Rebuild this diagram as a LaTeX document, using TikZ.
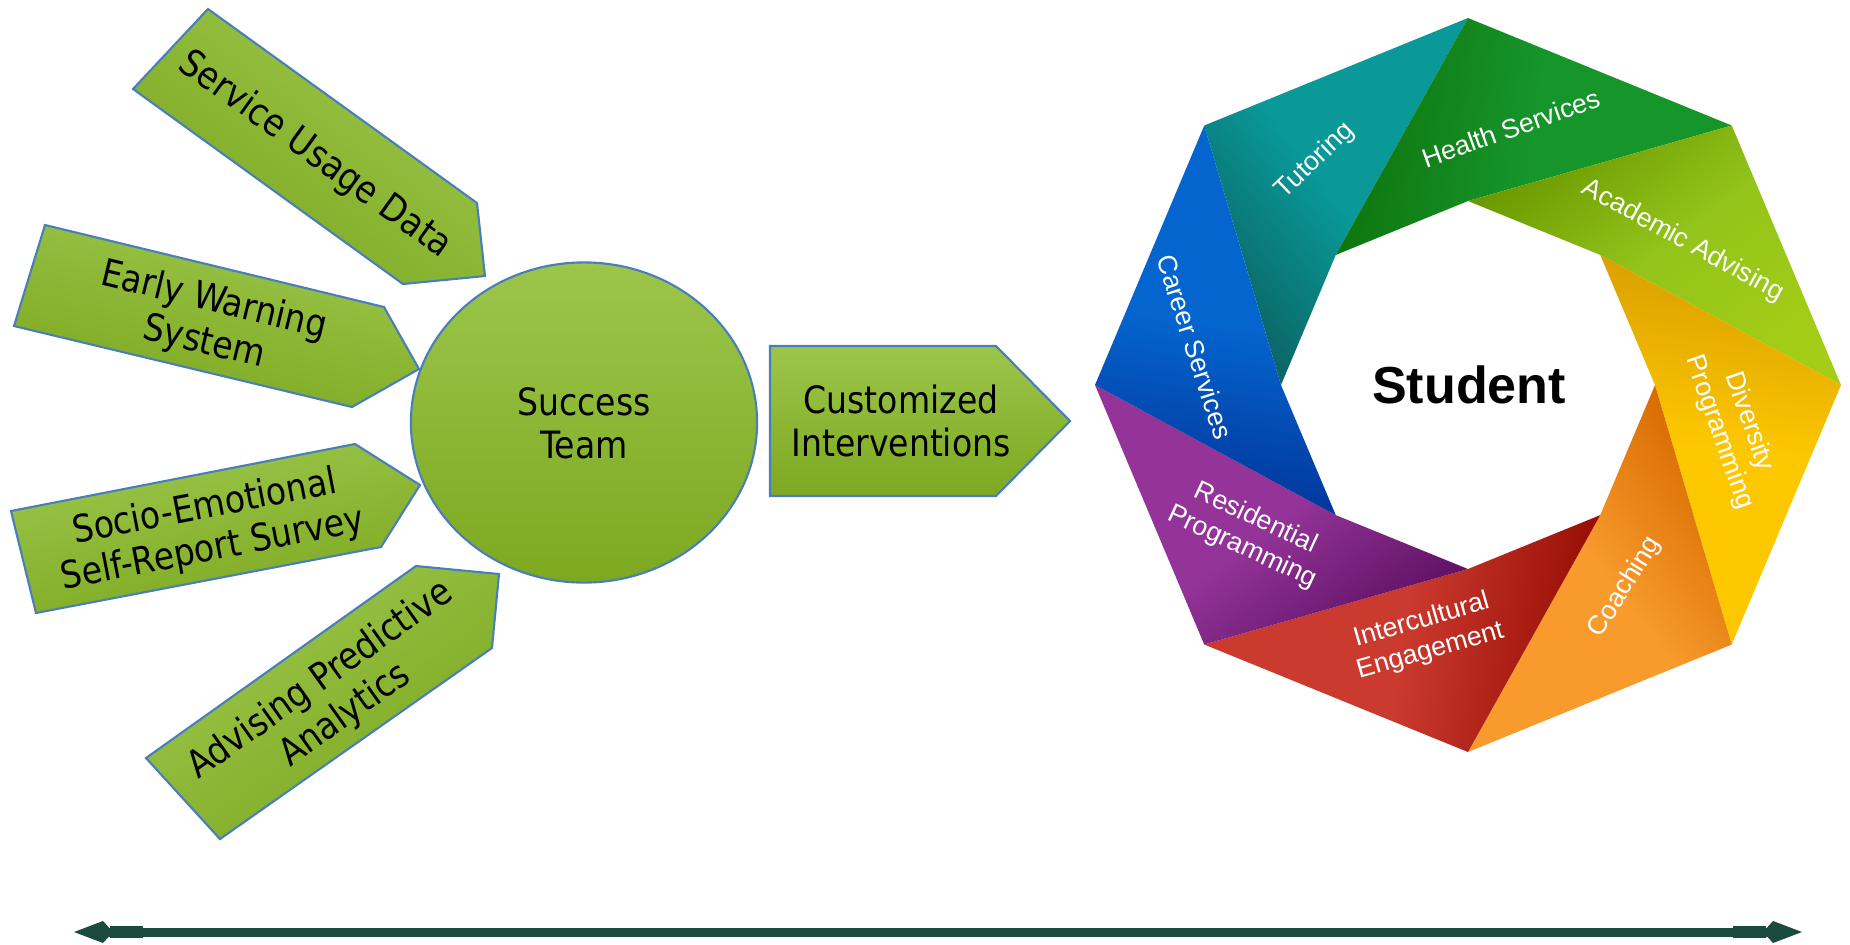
\documentclass[tikz,border=0pt]{standalone}
\usepackage{fontspec}
\usetikzlibrary{shapes.geometric,arrows.meta}
\newfontfamily\tah{DejaVu Sans}[FakeStretch=0.88]
\newfontfamily\ari{Liberation Sans}
\definecolor{glight}{HTML}{9BC64B}
\definecolor{gdark}{HTML}{7DA820}
\definecolor{gline}{HTML}{4A7EBB}
\definecolor{arrowgreen}{HTML}{1B4B3D}
\definecolor{tealmain}{HTML}{0A9898}\definecolor{tealdark}{HTML}{0B6464}
\definecolor{grnmain}{HTML}{16952B}\definecolor{grndark}{HTML}{0E740C}
\definecolor{limemain}{HTML}{93C41A}\definecolor{limedark}{HTML}{6A9800}
\definecolor{yelmain}{HTML}{FDC800}\definecolor{yeldark}{HTML}{D99E00}
\definecolor{orgmain}{HTML}{F89A2C}\definecolor{orgdark}{HTML}{D86C00}
\definecolor{redmain}{HTML}{CB3A2E}\definecolor{reddark}{HTML}{950C04}
\definecolor{purmain}{HTML}{943499}\definecolor{purdark}{HTML}{5F1264}
\definecolor{blumain}{HTML}{0565CF}\definecolor{bludark}{HTML}{00359A}
\tikzset{
  feed/.style={draw=gline, line width=0.6pt, top color=glight, bottom color=gdark},
  feedtext/.style={font=\tah\fontsize{10.7}{12.2}\selectfont, align=center, text=black, inner sep=0pt},
  paneltext/.style={font=\ari\fontsize{7.6}{9}\selectfont, align=center, text=white, inner sep=0pt},
  neck/.style={draw=arrowgreen, line width=0.12cm},
  kitetip/.tip={Kite[length=0.39cm,width=0.22cm,inset=0.1cm]}
}
\begin{document}
\begin{tikzpicture}[x=0.01cm,y=-0.01cm]
\useasboundingbox (0,0) rectangle (1850,944);

% ---- input arrows ----
\shade[feed, shading angle=-35.8] (208,9) -- (477,203) -- (485,276) -- (403,284) -- (133,89) -- cycle;
\node[feedtext, rotate=-35.8] (sud) at (315,155) {Service Usage Data};

\shade[feed, shading angle=-13.5] (45,225) -- (384,307) -- (419,369) -- (352,407) -- (14,326) -- cycle;
\node[feedtext, rotate=-13.5] (ews) at (209,322) {Early Warning\\System};

\shade[feed, shading angle=10.9] (11,511) -- (355,444) -- (420,485) -- (381,547) -- (36,613) -- cycle;
\node[feedtext, rotate=10.9] (ses) at (209,529) {Socio-Emotional\\Self-Report Survey};

\shade[feed, shading angle=35.4] (146,758) -- (416,566) -- (499,574) -- (492,648) -- (220,839) -- cycle;
\node[feedtext, rotate=35.4] (apa) at (333,698) {Advising Predictive\\Analytics};

% ---- success team ----
\node[ellipse, feed, minimum width=3.46cm, minimum height=3.2cm, inner sep=0pt] (st) at (584,422.5) {};
\node[feedtext] (stt) at (584,423) {Success\\Team};

% ---- customized interventions ----
\shade[feed] (770,346) -- (996,346) -- (1070,421) -- (996,496) -- (770,496) -- cycle;
\node[feedtext] (ci) at (901,421) {Customized\\Interventions};

% ---- octagon ring ----
\foreach \k in {0,...,7}{
  \coordinate (o\k) at ({1468+373*cos(45*\k)},{385+367*sin(45*\k)});
  \coordinate (i\k) at ({1468+187*cos(45*\k)},{385+184*sin(45*\k)});
}
\shade[bottom color=tealdark, top color=tealmain, middle color=tealmain, shading angle=-52.9] (o5) -- (o6) -- (i5) -- (i4) -- cycle;
\shade[bottom color=grndark, top color=grnmain, middle color=grnmain, shading angle=-97.9] (o6) -- (o7) -- (i6) -- (i5) -- cycle;
\shade[bottom color=limedark, top color=limemain!85!yellow, middle color=limemain, shading angle=-142.9] (o7) -- (o0) -- (i7) -- (i6) -- cycle;
\shade[bottom color=yeldark, top color=yelmain, middle color=yelmain, shading angle=172.1] (o0) -- (o1) -- (i0) -- (i7) -- cycle;
\shade[bottom color=orgdark, top color=orgmain, middle color=orgmain, shading angle=127.1] (o1) -- (o2) -- (i1) -- (i0) -- cycle;
\shade[bottom color=reddark, top color=redmain, middle color=redmain, shading angle=82.1] (o2) -- (o3) -- (i2) -- (i1) -- cycle;
\shade[bottom color=purdark, top color=purmain, middle color=purmain, shading angle=37.1] (o3) -- (o4) -- (i3) -- (i2) -- cycle;
\shade[bottom color=bludark, top color=blumain, middle color=blumain, shading angle=-7.9] (o4) -- (o5) -- (i4) -- (i3) -- cycle;

\node[paneltext, rotate=44] (tut) at (1315,161) {Tutoring};
\node[paneltext, rotate=19.6] (hs) at (1511,128) {Health Services};
\node[paneltext, rotate=-28.7] (aa) at (1683,241) {Academic Advising};
\node[paneltext, rotate=-70.7] (dp) at (1734,427) {Diversity\\Programming};
\node[paneltext, rotate=58] (co) at (1625,587) {Coaching};
\node[paneltext, rotate=16] (ie) at (1426,636) {Intercultural\\Engagement};
\node[paneltext, rotate=-25] (rp) at (1249,533) {Residential\\Programming};
\node[paneltext, rotate=-72] (cs) at (1195,347) {Career Services};

\node[font=\ari\bfseries\fontsize{14.8}{17}\selectfont, inner sep=0pt] (stu) at (1469,385) {Student};

% ---- bottom double arrow ----
\coordinate (la) at (74,932);
\coordinate (ra) at (1802,932);
\coordinate (ln1) at (110,932);
\coordinate (ln2) at (143,932);
\coordinate (rn1) at (1733,932);
\coordinate (rn2) at (1766,932);
\draw[arrowgreen, line width=0.09cm, {kitetip}-{kitetip}] (la) -- (ra);
\draw[neck] (ln1) -- (ln2);
\draw[neck] (rn1) -- (rn2);
\end{tikzpicture}
\end{document}
